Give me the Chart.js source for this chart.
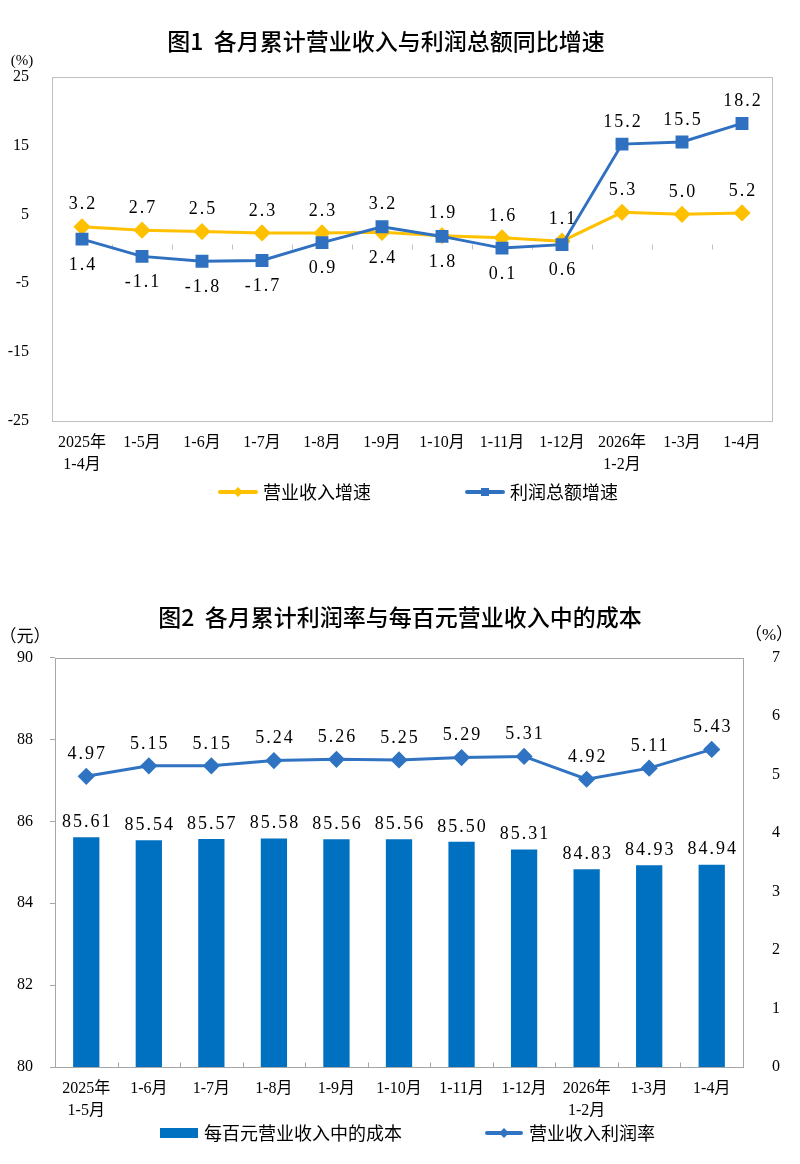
<!DOCTYPE html>
<html>
<head>
<meta charset="utf-8">
<script src="https://cdn.jsdelivr.net/npm/chart.js@4.4.1/dist/chart.umd.min.js"></script>
<style>
  html, body { margin: 0; padding: 0; background: #fff; overflow: hidden; }
  .box { position: absolute; left: 0; width: 800px; }
  #box1 { top: 0; height: 560px; }
  #box2 { top: 580px; height: 584px; }
</style>
</head>
<body>
<div class="box" id="box1"><canvas id="chart1" width="800" height="560"></canvas></div>
<div class="box" id="box2"><canvas id="chart2" width="800" height="584"></canvas></div>
<script>
// ====== Datos ======
const months1 = [['2025年', '1-4月'], '1-5月', '1-6月', '1-7月', '1-8月', '1-9月', '1-10月', '1-11月', '1-12月', ['2026年', '1-2月'], '1-3月', '1-4月'];
const revenueGrowth = [3.2, 2.7, 2.5, 2.3, 2.3, 2.4, 1.9, 1.6, 1.1, 5.3, 5.0, 5.2];
const profitGrowth = [1.4, -1.1, -1.8, -1.7, 0.9, 3.2, 1.8, 0.1, 0.6, 15.2, 15.5, 18.2];

const months2 = [['2025年', '1-5月'], '1-6月', '1-7月', '1-8月', '1-9月', '1-10月', '1-11月', '1-12月', ['2026年', '1-2月'], '1-3月', '1-4月'];
const costPer100 = [85.61, 85.54, 85.57, 85.58, 85.56, 85.56, 85.50, 85.31, 84.83, 84.93, 84.94];
const profitRate = [4.97, 5.15, 5.15, 5.24, 5.26, 5.25, 5.29, 5.31, 4.92, 5.11, 5.43];

// ====== Estilos ======
const SERIF = '"Liberation Serif", "Noto Sans CJK SC", serif';
const CJK = '"Noto Sans CJK SC", sans-serif';
const YELLOW = '#FFC000';
const BLUE1 = '#3070C0';
const BLUE2 = '#2F73C2';
const BAR_BLUE = '#0070C0';

// ====== Plugins ======
// marco del area del grafico + marcas entre categorias
const frame = {
  id: 'frame',
  beforeDatasetsDraw(chart, args, o) {
    const { ctx, chartArea: a, scales } = chart;
    ctx.save();
    ctx.strokeStyle = o.color;
    ctx.lineWidth = 1;
    ctx.strokeRect(Math.round(a.left) + 0.5, Math.round(a.top) + 0.5, Math.round(a.right - a.left), Math.round(a.bottom - a.top));
    const x = scales.x;
    const y0 = Math.round(scales[o.axis].getPixelForValue(o.at)) + 0.5;
    ctx.beginPath();
    for (let i = 1; i < chart.data.labels.length; i++) {
      const px = Math.round((x.getPixelForValue(i - 1) + x.getPixelForValue(i)) / 2) + 0.5;
      ctx.moveTo(px, y0);
      ctx.lineTo(px, y0 - o.len);
    }
    ctx.stroke();
    ctx.restore();
  }
};

// etiquetas de valores
const valueLabels = {
  id: 'valueLabels',
  afterDatasetsDraw(chart, args, o) {
    const ctx = chart.ctx;
    const sets = chart.data.datasets;
    ctx.save();
    ctx.font = o.font;
    ctx.fillStyle = o.color;
    ctx.textAlign = 'center';
    ctx.textBaseline = 'middle';
    if ('letterSpacing' in ctx) ctx.letterSpacing = o.spacing + 'px';
    sets.forEach((ds, di) => {
      const meta = chart.getDatasetMeta(di);
      meta.data.forEach((el, i) => {
        const v = ds.data[i];
        let dy = -o.above;
        if (meta.type === 'bar') dy = -o.barGap;
        else if (o.pairwise) {
          const other = sets[1 - di].data[i];
          if (other > v && other - v < o.near) dy = o.below;
        }
        ctx.fillText(v.toFixed(o.decimals), el.x + o.spacing / 2, el.y + dy);
      });
    });
    ctx.restore();
  }
};

// textos de unidades
const cornerText = {
  id: 'cornerText',
  afterDraw(chart, args, o) {
    const ctx = chart.ctx;
    ctx.save();
    ctx.fillStyle = '#000';
    ctx.textBaseline = 'middle';
    o.items.forEach(t => {
      ctx.font = t.font;
      ctx.textAlign = t.align || 'left';
      ctx.fillText(t.text, t.x, t.y);
    });
    ctx.restore();
  }
};

// leyenda
const rowLegend = {
  id: 'rowLegend',
  afterDraw(chart, args, o) {
    const ctx = chart.ctx;
    ctx.save();
    chart.data.datasets.forEach((ds, i) => {
      const x = o.x[i];
      const y = o.y;
      const color = ds.borderColor || ds.backgroundColor;
      if (ds.type === 'bar' || chart.config.type === 'bar' && !ds.type) {
        ctx.fillStyle = ds.backgroundColor;
        ctx.fillRect(x, y - 5, o.iconW, 10);
      } else {
        ctx.strokeStyle = color;
        ctx.lineWidth = 4;
        ctx.lineCap = 'round';
        ctx.beginPath();
        ctx.moveTo(x + 2, y);
        ctx.lineTo(x + o.iconW - 2, y);
        ctx.stroke();
        ctx.fillStyle = color;
        const cx = x + o.iconW / 2;
        ctx.beginPath();
        if (ds.pointStyle === 'rect') ctx.rect(cx - 4, y - 4, 8, 8);
        else { ctx.moveTo(cx, y - 5); ctx.lineTo(cx + 5, y); ctx.lineTo(cx, y + 5); ctx.lineTo(cx - 5, y); ctx.closePath(); }
        ctx.fill();
      }
      ctx.fillStyle = '#000';
      ctx.font = o.font;
      ctx.textAlign = 'left';
      ctx.textBaseline = 'middle';
      ctx.fillText(ds.label, x + o.iconW + o.gap, y);
    });
    ctx.restore();
  }
};

const tickFont = { family: SERIF, size: 16, lineHeight: 1.375 };

// ====== Chart 1: crecimiento ======
new Chart(document.getElementById('chart1'), {
  type: 'line',
  data: {
    labels: months1,
    datasets: [
      {
        label: '营业收入增速',
        data: revenueGrowth,
        borderColor: YELLOW,
        backgroundColor: YELLOW,
        borderWidth: 3,
        pointStyle: 'rectRot',
        pointRadius: 6.5,
        order: 1
      },
      {
        label: '利润总额增速',
        data: profitGrowth,
        borderColor: BLUE1,
        backgroundColor: BLUE1,
        borderWidth: 3,
        pointStyle: 'rect',
        pointRadius: 7,
        order: 0
      }
    ]
  },
  options: {
    responsive: false,
    animation: false,
    layout: { padding: { left: 0, right: 28, top: 0, bottom: 79 } },
    scales: {
      x: {
        offset: true,
        grid: { display: false },
        border: { display: false },
        ticks: { font: tickFont, color: '#000', padding: 3, maxRotation: 0, autoSkip: false },
        afterFit: (s) => { s.height = 60; }
      },
      y: {
        min: -25,
        max: 25,
        grid: { display: false },
        border: { display: false },
        ticks: { stepSize: 10, font: { family: SERIF, size: 16 }, color: '#000', padding: 15 },
        afterFit: (s) => { s.width = 52; }
      }
    },
    plugins: {
      title: {
        display: true,
        text: '图1  各月累计营业收入与利润总额同比增速',
        font: { family: CJK, size: 23, weight: '500' },
        color: '#000',
        padding: { top: 27, bottom: 22 }
      },
      legend: { display: false },
      tooltip: { enabled: false },
      frame: { color: '#BFBFBF', axis: 'y', at: 0, len: 5 },
      valueLabels: { font: '18px ' + SERIF, color: '#000', spacing: 2, decimals: 1, pairwise: true, near: 6, above: 22, below: 26 },
      cornerText: { items: [{ text: '(%)', x: 22, y: 61, align: 'center', font: '15px ' + SERIF }] },
      rowLegend: { x: [218, 465], y: 492, iconW: 40, gap: 5, font: '18px ' + CJK }
    }
  },
  plugins: [frame, valueLabels, cornerText, rowLegend]
});

// ====== Chart 2: costo y margen ======
new Chart(document.getElementById('chart2'), {
  type: 'bar',
  data: {
    labels: months2,
    datasets: [
      {
        type: 'bar',
        label: '每百元营业收入中的成本',
        data: costPer100,
        backgroundColor: BAR_BLUE,
        barPercentage: 0.42,
        categoryPercentage: 1,
        yAxisID: 'y',
        order: 1
      },
      {
        type: 'line',
        label: '营业收入利润率',
        data: profitRate,
        borderColor: BLUE2,
        backgroundColor: BLUE2,
        borderWidth: 3,
        pointStyle: 'rectRot',
        pointRadius: 6.5,
        yAxisID: 'y1',
        order: 0
      }
    ]
  },
  options: {
    responsive: false,
    animation: false,
    layout: { padding: { left: 0, right: 0, top: 0, bottom: 37 } },
    scales: {
      x: {
        offset: true,
        grid: { display: false },
        border: { display: false },
        ticks: { font: tickFont, color: '#000', padding: 3, maxRotation: 0, autoSkip: false },
        afterFit: (s) => { s.height = 60; }
      },
      y: {
        position: 'left',
        min: 80,
        max: 90,
        grid: { display: true, drawOnChartArea: false, drawTicks: true, tickLength: 5, color: '#A6A6A6' },
        border: { display: false },
        ticks: { stepSize: 2, font: { family: SERIF, size: 16 }, color: '#000', padding: 17 },
        afterFit: (s) => { s.width = 55; }
      },
      y1: {
        position: 'right',
        min: 0,
        max: 7,
        grid: { display: false },
        border: { display: false },
        ticks: { stepSize: 1, font: { family: SERIF, size: 16 }, color: '#000', padding: 21 },
        afterFit: (s) => { s.width = 57; }
      }
    },
    plugins: {
      title: {
        display: true,
        text: '图2  各月累计利润率与每百元营业收入中的成本',
        font: { family: CJK, size: 23, weight: '500' },
        color: '#000',
        padding: { top: 23, bottom: 27 }
      },
      legend: { display: false },
      tooltip: { enabled: false },
      frame: { color: '#A6A6A6', axis: 'y', at: 80, len: 5 },
      valueLabels: { font: '18px ' + SERIF, color: '#000', spacing: 2, decimals: 2, pairwise: false, above: 22, barGap: 15 },
      cornerText: {
        items: [
          { text: '（元）', x: 25, y: 56, align: 'center', font: '17px ' + CJK },
          { text: '（%）', x: 769, y: 56, align: 'center', font: '17px ' + SERIF }
        ]
      },
      rowLegend: { x: [160, 485], y: 553, iconW: 38, gap: 6, font: '18px ' + CJK }
    }
  },
  plugins: [frame, valueLabels, cornerText, rowLegend]
});
</script>
</body>
</html>
